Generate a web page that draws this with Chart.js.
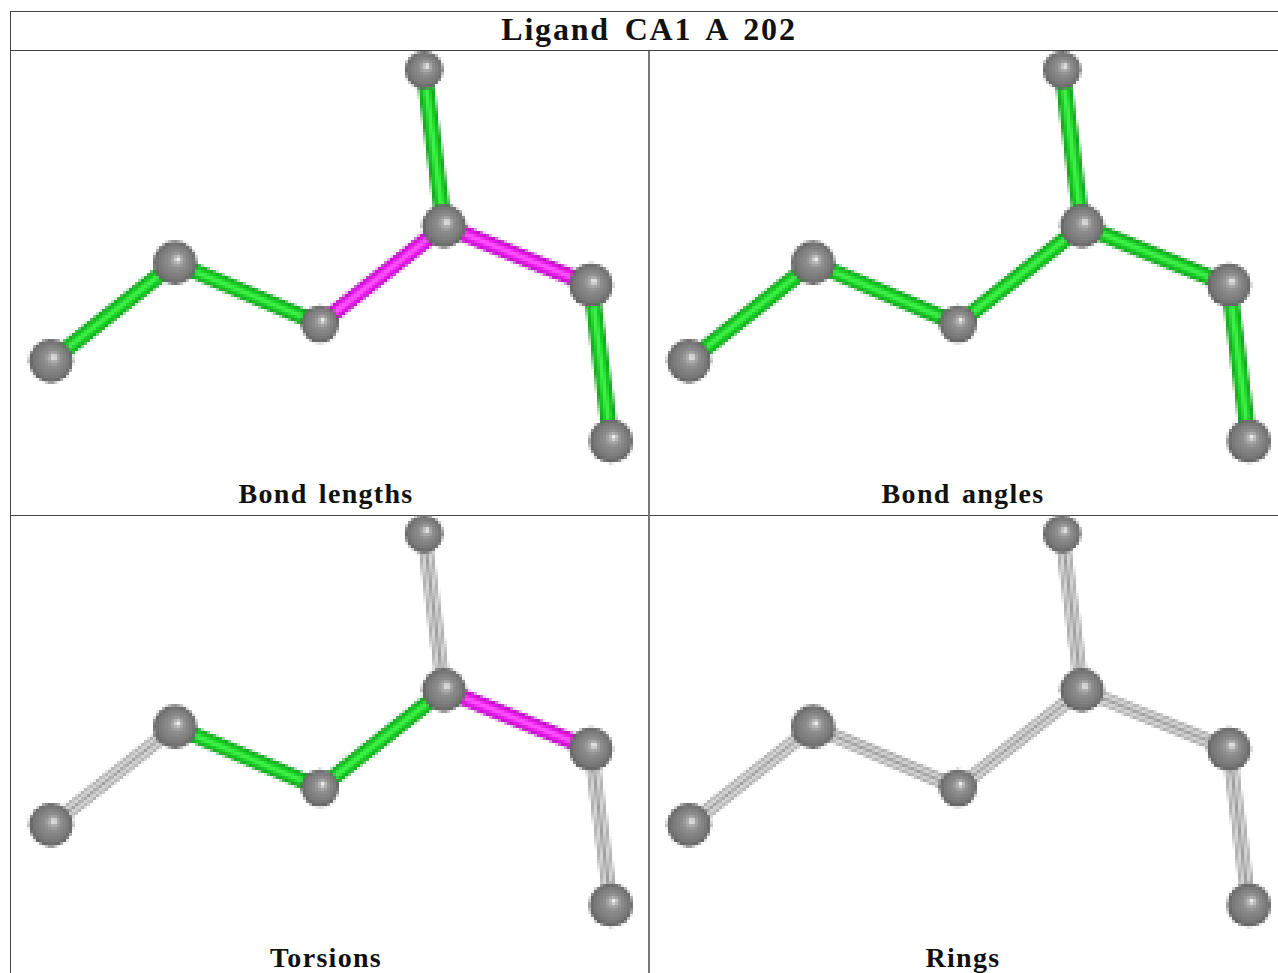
<!DOCTYPE html>
<html>
<head>
<meta charset="utf-8">
<title>Ligand CA1 A 202</title>
<script src="https://cdn.jsdelivr.net/npm/chart.js@4"></script>
<style>
  html, body { margin: 0; padding: 0; background: #fff; overflow: hidden; }
  body { position: relative; width: 1278px; height: 973px; font-family: "Liberation Serif", serif; font-weight: bold; color: #111; }
  .rule { position: absolute; background: #444; }
  .panel { position: absolute; width: 636px; height: 462px; }
  .panel canvas { image-rendering: pixelated; }
  .label { position: absolute; transform: translateX(-50%); white-space: nowrap; font-size: 28px; letter-spacing: 1.3px; word-spacing: 3px; line-height: 30px; }
  #title { font-size: 32px; letter-spacing: 1.8px; word-spacing: 5px; line-height: 36px; }
</style>
</head>
<body>
<div class="rule" style="left:10px;top:11px;width:1268px;height:1px"></div>
<div class="rule" style="left:10px;top:50px;width:1268px;height:1px"></div>
<div class="rule" style="left:10px;top:515px;width:1268px;height:1px"></div>
<div class="rule" style="left:10px;top:11px;width:1px;height:962px"></div>
<div class="rule" style="left:648px;top:51px;width:2px;height:922px;background:#777"></div>

<div class="label" id="title" style="left:649px;top:11px">Ligand CA1 A 202</div>
<div class="label" style="left:326px;top:479px">Bond lengths</div>
<div class="label" style="left:963px;top:479px">Bond angles</div>
<div class="label" style="left:326px;top:943px">Torsions</div>
<div class="label" style="left:963px;top:943px">Rings</div>

<div class="panel" style="left:0;top:51px"><canvas id="bondLengths"></canvas></div>
<div class="panel" style="left:638px;top:51px"><canvas id="bondAngles"></canvas></div>
<div class="panel" style="left:0;top:515px"><canvas id="torsions"></canvas></div>
<div class="panel" style="left:638px;top:515px"><canvas id="rings"></canvas></div>

<script>
// atom positions, same molecule in all panels
const atomX = [51, 175, 320, 444, 424, 591, 611];
const atomY = [310, 212, 273, 175, 19, 234, 390];
const bondFrom = [0, 1, 2, 3, 3, 5];
const bondTo = [1, 2, 3, 4, 5, 6];

// quality flag per bond, g = ok, m = outlier, n = not assessed
const bondLengthFlags = ['g', 'g', 'm', 'g', 'm', 'g'];
const bondAngleFlags = ['g', 'g', 'g', 'g', 'g', 'g'];
const torsionFlags = ['n', 'g', 'g', 'n', 'm', 'n'];
const ringFlags = ['n', 'n', 'n', 'n', 'n', 'n'];

// outer to inner stripes of a stick
const stickStyles = {
  g: [[16, '#109c1c'], [12, '#18c824'], [5, '#3cf046']],
  m: [[16, '#b40fbc'], [12, '#e416e8'], [5, '#ff50ff']],
  n: [[14, '#a0a0a0'], [10, '#d4d4d4'], [3, '#9c9c9c']]
};
const atomRadius = [22, 22, 19, 22, 19, 22, 22];

function atomFill(context) {
  if (context.type !== 'data') return '#808080';
  const chart = context.chart;
  const px = chart.scales.x.getPixelForValue(atomX[context.dataIndex]);
  const py = chart.scales.y.getPixelForValue(atomY[context.dataIndex]);
  // scales have no size yet on the first pass
  if (!isFinite(px) || !isFinite(py)) return '#808080';
  const r = atomRadius[context.dataIndex];
  const g = chart.ctx.createRadialGradient(px + 3, py - 4, 1, px, py, r);
  g.addColorStop(0, '#ececec');
  g.addColorStop(0.14, '#aeaeae');
  g.addColorStop(0.35, '#8e8e8e');
  g.addColorStop(0.8, '#767676');
  g.addColorStop(1, '#5c5c5c');
  return g;
}

function drawMolecule(canvasId, flags) {
  const datasets = [{
    data: atomX.map((x, i) => ({ x: x, y: atomY[i] })),
    pointRadius: atomRadius,
    pointBackgroundColor: atomFill,
    pointBorderWidth: 0,
    order: 0
  }];

  flags.forEach((flag, b) => {
    stickStyles[flag].forEach((stripe, s) => {
      datasets.push({
        data: [
          { x: atomX[bondFrom[b]], y: atomY[bondFrom[b]] },
          { x: atomX[bondTo[b]], y: atomY[bondTo[b]] }
        ],
        showLine: true,
        pointRadius: 0,
        borderColor: stripe[1],
        borderWidth: stripe[0],
        order: 10 - s
      });
    });
  });

  new Chart(document.getElementById(canvasId), {
    type: 'scatter',
    data: { datasets: datasets },
    options: {
      responsive: false,
      devicePixelRatio: 1 / 3,
      animation: false,
      events: [],
      layout: { padding: 0, autoPadding: false },
      plugins: { legend: { display: false }, tooltip: { enabled: false } },
      scales: {
        x: { type: 'linear', display: false, min: 0, max: 636 },
        y: { type: 'linear', display: false, min: 0, max: 462, reverse: true }
      }
    }
  });
}

function sizeCanvas(id) {
  const c = document.getElementById(id);
  c.style.width = '636px';
  c.style.height = '462px';
  c.width = 636;
  c.height = 462;
}

['bondLengths', 'bondAngles', 'torsions', 'rings'].forEach(sizeCanvas);
drawMolecule('bondLengths', bondLengthFlags);
drawMolecule('bondAngles', bondAngleFlags);
drawMolecule('torsions', torsionFlags);
drawMolecule('rings', ringFlags);
</script>
</body>
</html>
